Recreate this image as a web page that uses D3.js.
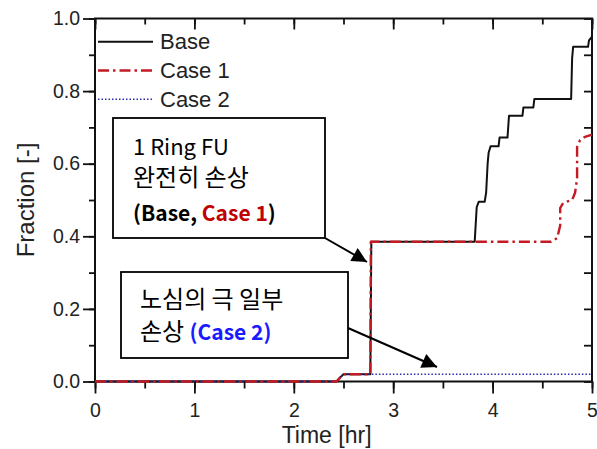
<!DOCTYPE html>
<html>
<head>
<meta charset="utf-8">
<script src="https://cdn.jsdelivr.net/npm/d3@7"></script>
<style>
  body { margin: 0; background: #fff; }
  text { font-family: "Liberation Sans", Arial, sans-serif; }
  .note { font-family: "Noto Sans CJK KR", "Noto Sans", sans-serif; }
</style>
</head>
<body>
<svg id="chart" width="597" height="449"></svg>
<script>
// series: [time (hr), fraction]
const baseData = [
  [0, 0], [2.43, 0], [2.47, 0.012], [2.5, 0.02], [2.77, 0.02], [2.78, 0.385],
  [3.82, 0.385], [3.84, 0.48], [3.86, 0.495], [3.92, 0.495], [3.935, 0.52],
  [3.95, 0.6], [3.96, 0.63], [3.98, 0.648], [4.06, 0.648], [4.07, 0.672],
  [4.15, 0.672], [4.165, 0.732], [4.30, 0.732], [4.31, 0.755], [4.41, 0.755],
  [4.42, 0.778], [4.79, 0.778], [4.80, 0.89], [4.81, 0.922], [4.96, 0.922],
  [4.97, 0.94], [5.0, 0.95]
];
const case1Data = [
  [0, 0], [2.43, 0], [2.47, 0.012], [2.5, 0.02], [2.77, 0.02], [2.775, 0.385],
  [4.59, 0.385], [4.65, 0.395], [4.68, 0.43], [4.68, 0.478], [4.71, 0.492],
  [4.80, 0.5], [4.83, 0.52], [4.85, 0.56], [4.85, 0.646], [4.88, 0.665],
  [4.93, 0.674], [5.0, 0.68]
];
const case2Data = [
  [0, 0], [2.43, 0], [2.47, 0.012], [2.5, 0.02], [5.0, 0.02]
];
const seriesNames = ["Base", "Case 1", "Case 2"];
const xTicks = [0, 1, 2, 3, 4, 5];
const yTicks = [0, 0.2, 0.4, 0.6, 0.8, 1.0];

const margin = { top: 18.5, right: 5, bottom: 67.5, left: 95 };
const width = 597 - margin.left - margin.right;
const height = 449 - margin.top - margin.bottom;

const svg = d3.select("#chart");
const g = svg.append("g").attr("transform", `translate(${margin.left},${margin.top})`);

const x = d3.scaleLinear().domain([0, 5]).range([0, width]);
const y = d3.scaleLinear().domain([0, 1]).range([height, 0]);

const xMinor = d3.range(0, 5.01, 0.5);
const yMinor = d3.range(0, 1.001, 0.1);

// minor ticks first, majors on top
g.append("g").attr("transform", `translate(0,${height})`)
  .call(d3.axisBottom(x).tickValues(xMinor).tickSize(7).tickFormat(""));
g.append("g").attr("transform", `translate(0,${height})`)
  .call(d3.axisBottom(x).tickValues(xTicks).tickSize(12).tickPadding(10).tickFormat(d3.format("d")))
  .attr("class", "xaxis");
g.append("g").call(d3.axisLeft(y).tickValues(yMinor).tickSize(6).tickFormat(""));
g.append("g").call(d3.axisLeft(y).tickValues(yTicks).tickSize(12).tickPadding(3).tickFormat(d3.format(".1f")))
  .attr("class", "yaxis");
g.append("g").call(d3.axisTop(x).tickValues(xMinor).tickSize(-6).tickFormat(""));
g.append("g").call(d3.axisTop(x).tickValues(xTicks).tickSize(-11).tickFormat(""));
g.append("g").attr("transform", `translate(${width},0)`)
  .call(d3.axisRight(y).tickValues(yMinor).tickSize(-8).tickFormat(""));

g.selectAll(".domain").remove();
g.selectAll(".tick line").attr("stroke", "#111").attr("stroke-width", 1.8);
g.selectAll(".xaxis text, .yaxis text").attr("font-size", 19.5).attr("fill", "#222")
  .style("font-family", "'Liberation Sans', Arial, sans-serif");

// frame
g.append("rect").attr("width", width).attr("height", height)
  .attr("fill", "none").attr("stroke", "#111").attr("stroke-width", 2);

// axis titles
svg.append("text").attr("x", margin.left + x(2.33)).attr("y", 443)
  .attr("text-anchor", "middle").attr("font-size", 23).attr("fill", "#222").text("Time [hr]");
svg.append("text").attr("transform", `translate(34,${margin.top + height / 2}) rotate(-90)`)
  .attr("text-anchor", "middle").attr("font-size", 24).attr("fill", "#222").text("Fraction [-]");

// lines
const line = d3.line().x(d => x(d[0])).y(d => y(d[1]));
const styles = [
  { data: baseData, color: "#111", w: 2, dash: null },
  { data: case2Data, color: "#2a2aa8", w: 1.6, dash: "1.5,2" },
  { data: case1Data, color: "#c41a24", w: 2.4, dash: "11,4,2.5,4" }
];
const plot = g.append("g");
styles.forEach(s => {
  plot.append("path").datum(s.data).attr("d", line)
    .attr("fill", "none").attr("stroke", s.color).attr("stroke-width", s.w)
    .attr("stroke-dasharray", s.dash).attr("stroke-linejoin", "round");
});

// legend
const legendOrder = [styles[0], styles[2], styles[1]];
const legend = svg.append("g");
legendOrder.forEach((s, i) => {
  const ly = 41.7 + i * 28.8;
  legend.append("line").attr("x1", 98).attr("x2", 153).attr("y1", ly).attr("y2", ly)
    .attr("stroke", s.color).attr("stroke-width", s.w).attr("stroke-dasharray", s.dash);
  legend.append("text").attr("x", 160).attr("y", ly + 7.5).attr("font-size", 22)
    .attr("fill", "#222").text(seriesNames[i]);
});

// annotations
svg.append("defs").append("marker").attr("id", "head")
  .attr("viewBox", "0 0 10 10").attr("refX", 10).attr("refY", 5)
  .attr("markerWidth", 8).attr("markerHeight", 7.5).attr("markerUnits", "strokeWidth")
  .attr("orient", "auto")
  .append("path").attr("d", "M0,0L10,5L0,10Z").attr("fill", "#000");

const ann = svg.append("g");
ann.append("line").attr("x1", 325).attr("y1", 238).attr("x2", 367).attr("y2", 262)
  .attr("stroke", "#000").attr("stroke-width", 2).attr("marker-end", "url(#head)");
ann.append("line").attr("x1", 348).attr("y1", 328).attr("x2", 437).attr("y2", 367)
  .attr("stroke", "#000").attr("stroke-width", 2).attr("marker-end", "url(#head)");

ann.append("rect").attr("x", 113).attr("y", 118).attr("width", 212).attr("height", 120)
  .attr("fill", "#fff").attr("stroke", "#000").attr("stroke-width", 1.8);
ann.append("rect").attr("x", 121).attr("y", 272).attr("width", 227).attr("height", 86)
  .attr("fill", "#fff").attr("stroke", "#000").attr("stroke-width", 1.8);

ann.append("text").attr("class", "note").attr("x", 133).attr("y", 155).attr("font-size", 22).text("1 Ring FU");
ann.append("text").attr("class", "note").attr("x", 133).attr("y", 186).attr("font-size", 24).text("완전히 손상");
const t1 = ann.append("text").attr("class", "note").attr("x", 133).attr("y", 221)
  .attr("font-size", 21).attr("font-weight", "bold");
t1.append("tspan").text("(Base, ");
t1.append("tspan").attr("fill", "#c00000").text("Case 1");
t1.append("tspan").text(")");

ann.append("text").attr("class", "note").attr("x", 140).attr("y", 308).attr("font-size", 24).text("노심의 극 일부");
const t2 = ann.append("text").attr("class", "note").attr("x", 140).attr("y", 340).attr("font-size", 24);
t2.append("tspan").text("손상 ");
t2.append("tspan").attr("fill", "#1a1aff").attr("font-weight", "bold").attr("font-size", 21).text("(Case 2)");
</script>
</body>
</html>
